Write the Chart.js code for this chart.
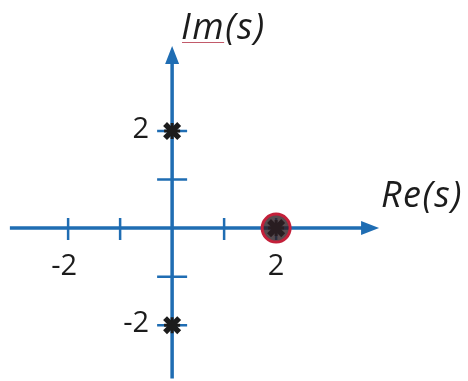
<!DOCTYPE html>
<html>
<head>
<meta charset="utf-8">
<script src="https://cdn.jsdelivr.net/npm/chart.js@4/dist/chart.umd.min.js"></script>
<style>
  html, body { margin: 0; padding: 0; background: #fff; }
  #wrap { width: 468px; height: 381px; }
</style>
</head>
<body>
<div id="wrap"><canvas id="pz"></canvas></div>
<script>
// s-plane: axis ticks, labelled ticks, poles and zeros
const reTicks = [-2, -1, 1, 2];
const imTicks = [-2, -1, 1, 2];
const reLabels = [-2, 2];
const imLabels = [-2, 2];
const poles = [{ x: 0, y: 2 }, { x: 0, y: -2 }, { x: 2, y: 0 }];
const zeros = [{ x: 2, y: 0 }];

const axisBlue = '#1f6db3';
const inkColor = '#1c1c1c';

const sPlaneAxes = {
  id: 'sPlaneAxes',
  beforeDatasetsDraw(chart) {
    const { ctx, scales: { x, y } } = chart;
    const x0 = x.getPixelForValue(0);
    const y0 = y.getPixelForValue(0);
    const xl = x.getPixelForValue(-3.12), xr = x.getPixelForValue(3.98);
    const yb = y.getPixelForValue(-3.1), yt = y.getPixelForValue(3.75);

    ctx.save();
    ctx.strokeStyle = axisBlue;
    ctx.fillStyle = axisBlue;
    ctx.lineWidth = 3.5;
    ctx.lineCap = 'butt';

    // axis lines
    ctx.beginPath();
    ctx.moveTo(xl, y0); ctx.lineTo(xr - 14, y0);
    ctx.moveTo(x0, yb); ctx.lineTo(x0, yt + 14);
    ctx.stroke();

    // arrow heads
    ctx.beginPath();
    ctx.moveTo(xr, y0); ctx.lineTo(xr - 18, y0 - 7); ctx.lineTo(xr - 18, y0 + 7); ctx.closePath();
    ctx.moveTo(x0, yt); ctx.lineTo(x0 - 7, yt + 18); ctx.lineTo(x0 + 7, yt + 18); ctx.closePath();
    ctx.fill();

    // tick marks
    ctx.lineWidth = 2.5;
    ctx.beginPath();
    reTicks.forEach(v => {
      const px = x.getPixelForValue(v);
      ctx.moveTo(px, y0 - 10); ctx.lineTo(px, y0 + 12);
    });
    imTicks.forEach(v => {
      const py = y.getPixelForValue(v);
      ctx.moveTo(x0 - 15, py); ctx.lineTo(x0 + 15, py);
    });
    ctx.stroke();

    // tick labels
    ctx.fillStyle = inkColor;
    ctx.font = '29px "Open Sans", sans-serif';
    ctx.textAlign = 'center';
    ctx.textBaseline = 'middle';
    reLabels.forEach(v => {
      ctx.fillText(String(v), x.getPixelForValue(v) - (v < 0 ? 4 : 0), y0 + 39);
    });
    ctx.textAlign = 'right';
    imLabels.forEach(v => {
      ctx.fillText(String(v), x0 - 23, y.getPixelForValue(v) - 1);
    });

    // axis titles
    ctx.font = 'italic 36px "Open Sans", sans-serif';
    ctx.letterSpacing = '1.5px';
    ctx.textAlign = 'left';
    ctx.textBaseline = 'alphabetic';
    ctx.fillText('Re(s)', 381, y0 - 21);
    ctx.fillText('Im(s)', 181, 39);
    const imW = ctx.measureText('Im').width;
    ctx.strokeStyle = '#c25a6a';
    ctx.lineWidth = 1;
    ctx.beginPath();
    ctx.moveTo(182, 42.5); ctx.lineTo(180 + imW, 42.5);
    ctx.stroke();
    ctx.restore();
  }
};

new Chart(document.getElementById('pz'), {
  type: 'scatter',
  data: {
    datasets: [
      {
        label: 'zeros',
        data: zeros,
        pointStyle: 'circle',
        radius: 14,
        borderWidth: 3,
        borderColor: '#c3203a',
        backgroundColor: 'rgba(45,30,35,0.8)'
      },
      {
        label: 'poles',
        data: poles,
        pointStyle: 'crossRot',
        radius: 10,
        borderWidth: 5.5,
        borderColor: inkColor,
        backgroundColor: inkColor
      },
      {
        label: 'poles (inner)',
        data: poles,
        pointStyle: 'cross',
        radius: 8,
        borderWidth: 3,
        borderColor: inkColor,
        backgroundColor: inkColor
      }
    ]
  },
  options: {
    responsive: true,
    maintainAspectRatio: false,
    animation: false,
    layout: { padding: 0, autoPadding: false },
    scales: {
      x: { type: 'linear', min: -3.31, max: 5.69, display: false },
      y: { type: 'linear', min: -3.15, max: 4.7, display: false }
    },
    plugins: {
      legend: { display: false },
      tooltip: { enabled: false }
    }
  },
  plugins: [sPlaneAxes]
});
</script>
</body>
</html>
